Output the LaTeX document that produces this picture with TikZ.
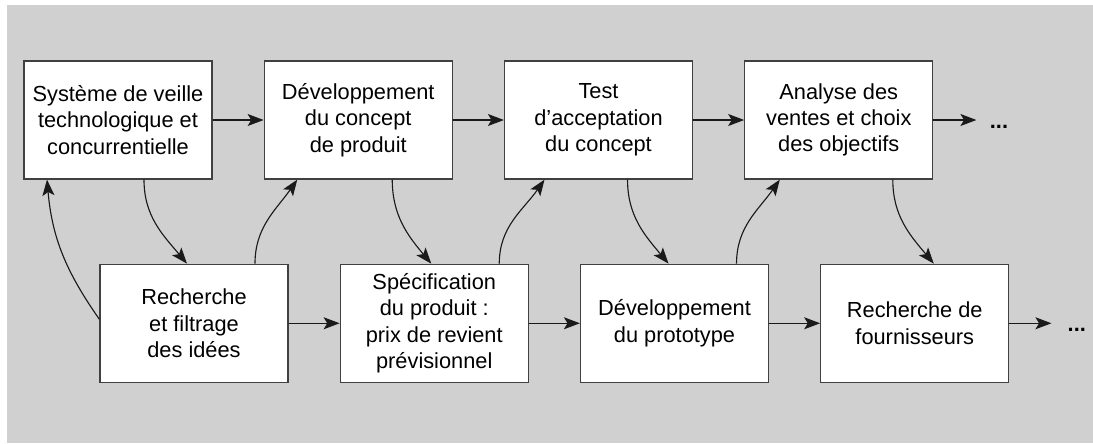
\documentclass[tikz,border=0pt]{standalone}
\usepackage{fontspec}
\setmainfont{Liberation Sans}
\usepackage{tikz}
\usetikzlibrary{arrows.meta,positioning}

\definecolor{bggray}{RGB}{208,208,208}
\definecolor{edgegray}{RGB}{64,64,64}
\definecolor{inkblack}{RGB}{26,26,26}

\begin{document}
\begin{tikzpicture}[
  font=\fontsize{15.5}{18.7}\selectfont,
  proc/.style={rectangle, draw=edgegray, fill=white, line width=0.9pt,
               minimum width=4.7cm, minimum height=2.95cm,
               inner sep=0pt, align=center},
  arrow/.style={-{Stealth[length=4mm, width=3mm, inset=0.9mm]},
                draw=inkblack, line width=0.8pt},
  dots/.style={inner sep=0pt, font=\fontsize{15.5}{18.7}\selectfont\bfseries},
  node distance=2.1cm and 1.275cm,
]
  \useasboundingbox (0,0) rectangle (27.325,-11.075);
  \fill[bggray] (0.175,-0.125) rectangle (27.325,-11.075);

  % top row
  \node[proc] (veille) at (2.95,-3.0)
    {Système de veille\\technologique et\\concurrentielle};
  \node[proc, right=of veille] (concept)
    {Développement\\du concept\\de produit};
  \node[proc, right=of concept] (test)
    {Test\\d’acceptation\\du concept};
  \node[proc, right=of test] (ventes)
    {Analyse des\\ventes et choix\\des objectifs};

  % bottom row
  \node[proc, below=of veille, xshift=1.9cm] (idees)
    {Recherche\\et filtrage\\des idées};
  \node[proc, right=of idees] (specif)
    {Spécification\\du produit :\\prix de revient\\prévisionnel};
  \node[proc, right=of specif] (proto)
    {Développement\\du prototype};
  \node[proc, right=of proto] (fourn)
    {Recherche de\\fournisseurs};

  \coordinate[right=1.075cm of ventes] (suiteA);
  \coordinate[right=1.05cm of fourn] (suiteB);
  \node[dots, right=0.33cm of suiteA, yshift=-0.16cm] (dotsA) {...};
  \node[dots, right=0.4cm of suiteB, yshift=-0.17cm] (dotsB) {...};

  % straight flow
  \draw[arrow] (veille) -- (concept);
  \draw[arrow] (concept) -- (test);
  \draw[arrow] (test) -- (ventes);
  \draw[arrow] (ventes) -- (suiteA);
  \draw[arrow] (idees) -- (specif);
  \draw[arrow] (specif) -- (proto);
  \draw[arrow] (proto) -- (fourn);
  \draw[arrow] (fourn) -- (suiteB);

  % zigzag links
  \draw[arrow] ([xshift=0.65cm]veille.south) to[out=-90, in=130]
    ([xshift=-0.175cm]idees.north);
  \draw[arrow] ([xshift=1.525cm]idees.north) to[out=90, in=-125]
    ([xshift=-1.525cm]concept.south);
  \draw[arrow] ([xshift=0.85cm]concept.south) to[out=-90, in=130]
    ([xshift=-0.075cm]specif.north);
  \draw[arrow] ([xshift=1.625cm]specif.north) to[out=90, in=-125]
    ([xshift=-1.35cm]test.south);
  \draw[arrow] ([xshift=0.725cm]test.south) to[out=-90, in=130]
    ([xshift=-0.15cm]proto.north);
  \draw[arrow] ([xshift=1.55cm]proto.north) to[out=90, in=-125]
    ([xshift=-1.475cm]ventes.south);
  \draw[arrow] ([xshift=1.35cm]ventes.south) to[out=-90, in=130]
    ([xshift=0.475cm]fourn.north);
  \draw[arrow] ([yshift=0.1cm]idees.west) to[out=125, in=-85]
    ([xshift=-1.775cm]veille.south);
\end{tikzpicture}
\end{document}
